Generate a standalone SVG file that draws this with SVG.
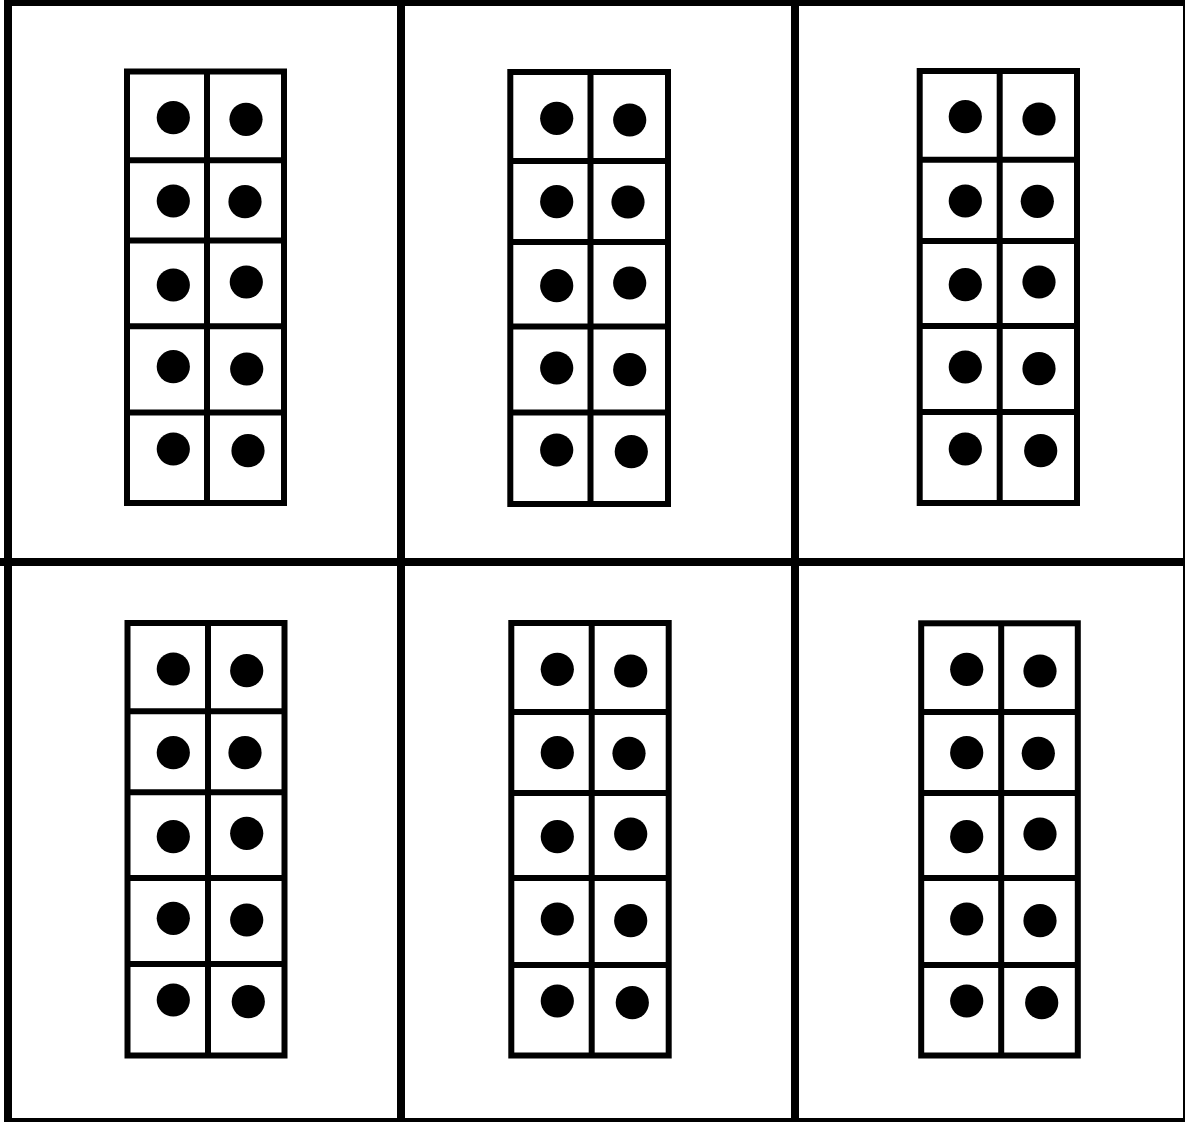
<svg xmlns="http://www.w3.org/2000/svg" width="1185" height="1122" viewBox="0 0 1185 1122">
<style>
.grid{stroke:#000;stroke-width:8;fill:none}
.frame{stroke:#000;stroke-width:6;fill:#fff}
.div{stroke:#000;stroke-width:6}
.dot{fill:#000}
</style>
<rect x="0" y="0" width="1185" height="1122" fill="#fff"/>
<g id="grid">
<rect class="grid" x="8" y="2" width="1179" height="1120"/>
<line class="grid" x1="401" y1="0" x2="401" y2="1122"/>
<line class="grid" x1="795" y1="0" x2="795" y2="1122"/>
<line class="grid" x1="0" y1="562" x2="1185" y2="562"/>
</g>
<g id="frame1">
<rect class="frame" x="127" y="71.5" width="157" height="431.5"/>
<line class="div" x1="207" y1="71.5" x2="207" y2="503"/>
<line class="div" x1="127" y1="160.3" x2="284" y2="160.3"/>
<line class="div" x1="127" y1="240.5" x2="284" y2="240.5"/>
<line class="div" x1="127" y1="326.3" x2="284" y2="326.3"/>
<line class="div" x1="127" y1="412.5" x2="284" y2="412.5"/>
<circle class="dot" cx="173.3" cy="117.7" r="16.6"/><circle class="dot" cx="246" cy="119.3" r="16.6"/>
<circle class="dot" cx="173.3" cy="201" r="16.6"/><circle class="dot" cx="245" cy="201.7" r="16.6"/>
<circle class="dot" cx="173.3" cy="285" r="16.6"/><circle class="dot" cx="246.3" cy="282" r="16.6"/>
<circle class="dot" cx="173.3" cy="366.7" r="16.6"/><circle class="dot" cx="246.7" cy="369" r="16.6"/>
<circle class="dot" cx="173.3" cy="449" r="16.6"/><circle class="dot" cx="248" cy="450.7" r="16.6"/>
</g>
<g id="frame2">
<rect class="frame" x="510.3" y="72" width="157.7" height="432"/>
<line class="div" x1="590.5" y1="72" x2="590.5" y2="504"/>
<line class="div" x1="510.3" y1="161" x2="668" y2="161"/>
<line class="div" x1="510.3" y1="242" x2="668" y2="242"/>
<line class="div" x1="510.3" y1="326.5" x2="668" y2="326.5"/>
<line class="div" x1="510.3" y1="412.5" x2="668" y2="412.5"/>
<circle class="dot" cx="556.7" cy="118.3" r="16.6"/><circle class="dot" cx="629.7" cy="120" r="16.6"/>
<circle class="dot" cx="556.7" cy="201.7" r="16.6"/><circle class="dot" cx="628" cy="202" r="16.6"/>
<circle class="dot" cx="556.7" cy="285.7" r="16.6"/><circle class="dot" cx="629.7" cy="283" r="16.6"/>
<circle class="dot" cx="556.7" cy="368" r="16.6"/><circle class="dot" cx="629.7" cy="369.7" r="16.6"/>
<circle class="dot" cx="556.7" cy="450" r="16.6"/><circle class="dot" cx="631.3" cy="451.7" r="16.6"/>
</g>
<g id="frame3">
<rect class="frame" x="919.7" y="71" width="157.3" height="432"/>
<line class="div" x1="999.7" y1="71" x2="999.7" y2="503"/>
<line class="div" x1="919.7" y1="159.7" x2="1077" y2="159.7"/>
<line class="div" x1="919.7" y1="241" x2="1077" y2="241"/>
<line class="div" x1="919.7" y1="326" x2="1077" y2="326"/>
<line class="div" x1="919.7" y1="412" x2="1077" y2="412"/>
<circle class="dot" cx="965.3" cy="116.7" r="16.6"/><circle class="dot" cx="1039" cy="119" r="16.6"/>
<circle class="dot" cx="965.3" cy="201" r="16.6"/><circle class="dot" cx="1037.3" cy="201.3" r="16.6"/>
<circle class="dot" cx="965.3" cy="284.7" r="16.6"/><circle class="dot" cx="1039" cy="282" r="16.6"/>
<circle class="dot" cx="965.3" cy="367" r="16.6"/><circle class="dot" cx="1039" cy="368.7" r="16.6"/>
<circle class="dot" cx="965.3" cy="449" r="16.6"/><circle class="dot" cx="1040.7" cy="450.7" r="16.6"/>
</g>
<g id="frame4">
<rect class="frame" x="127.5" y="623" width="157" height="432.5"/>
<line class="div" x1="208" y1="623" x2="208" y2="1055.5"/>
<line class="div" x1="127.5" y1="711.2" x2="284.5" y2="711.2"/>
<line class="div" x1="127.5" y1="792.2" x2="284.5" y2="792.2"/>
<line class="div" x1="127.5" y1="878" x2="284.5" y2="878"/>
<line class="div" x1="127.5" y1="964" x2="284.5" y2="964"/>
<circle class="dot" cx="173.3" cy="669" r="16.6"/><circle class="dot" cx="246.7" cy="670.7" r="16.6"/>
<circle class="dot" cx="173.3" cy="752.7" r="16.6"/><circle class="dot" cx="245" cy="752.7" r="16.6"/>
<circle class="dot" cx="173.3" cy="836.7" r="16.6"/><circle class="dot" cx="246.7" cy="833.3" r="16.6"/>
<circle class="dot" cx="173.3" cy="918.3" r="16.6"/><circle class="dot" cx="246.7" cy="920" r="16.6"/>
<circle class="dot" cx="173.3" cy="1000" r="16.6"/><circle class="dot" cx="248.3" cy="1001.7" r="16.6"/>
</g>
<g id="frame5">
<rect class="frame" x="511.3" y="623" width="157.4" height="432.5"/>
<line class="div" x1="591.7" y1="623" x2="591.7" y2="1055.5"/>
<line class="div" x1="511.3" y1="712" x2="668.7" y2="712"/>
<line class="div" x1="511.3" y1="793" x2="668.7" y2="793"/>
<line class="div" x1="511.3" y1="878" x2="668.7" y2="878"/>
<line class="div" x1="511.3" y1="965" x2="668.7" y2="965"/>
<circle class="dot" cx="557.3" cy="669.3" r="16.6"/><circle class="dot" cx="630.7" cy="671" r="16.6"/>
<circle class="dot" cx="557.3" cy="752.7" r="16.6"/><circle class="dot" cx="629" cy="753.3" r="16.6"/>
<circle class="dot" cx="557.3" cy="836.7" r="16.6"/><circle class="dot" cx="630.7" cy="834" r="16.6"/>
<circle class="dot" cx="557.3" cy="919" r="16.6"/><circle class="dot" cx="630.7" cy="920.7" r="16.6"/>
<circle class="dot" cx="557.3" cy="1001" r="16.6"/><circle class="dot" cx="632.3" cy="1002.7" r="16.6"/>
</g>
<g id="frame6">
<rect class="frame" x="921.2" y="623.3" width="156.6" height="432.2"/>
<line class="div" x1="1001.2" y1="623.3" x2="1001.2" y2="1055.5"/>
<line class="div" x1="921.2" y1="712" x2="1077.8" y2="712"/>
<line class="div" x1="921.2" y1="793" x2="1077.8" y2="793"/>
<line class="div" x1="921.2" y1="878" x2="1077.8" y2="878"/>
<line class="div" x1="921.2" y1="965" x2="1077.8" y2="965"/>
<circle class="dot" cx="966.7" cy="669.3" r="16.6"/><circle class="dot" cx="1040" cy="671" r="16.6"/>
<circle class="dot" cx="966.7" cy="752.7" r="16.6"/><circle class="dot" cx="1038.3" cy="753.3" r="16.6"/>
<circle class="dot" cx="966.7" cy="836.7" r="16.6"/><circle class="dot" cx="1040" cy="834" r="16.6"/>
<circle class="dot" cx="966.7" cy="919" r="16.6"/><circle class="dot" cx="1040" cy="920.7" r="16.6"/>
<circle class="dot" cx="966.7" cy="1001" r="16.6"/><circle class="dot" cx="1041.7" cy="1002.7" r="16.6"/>
</g>
</svg>
